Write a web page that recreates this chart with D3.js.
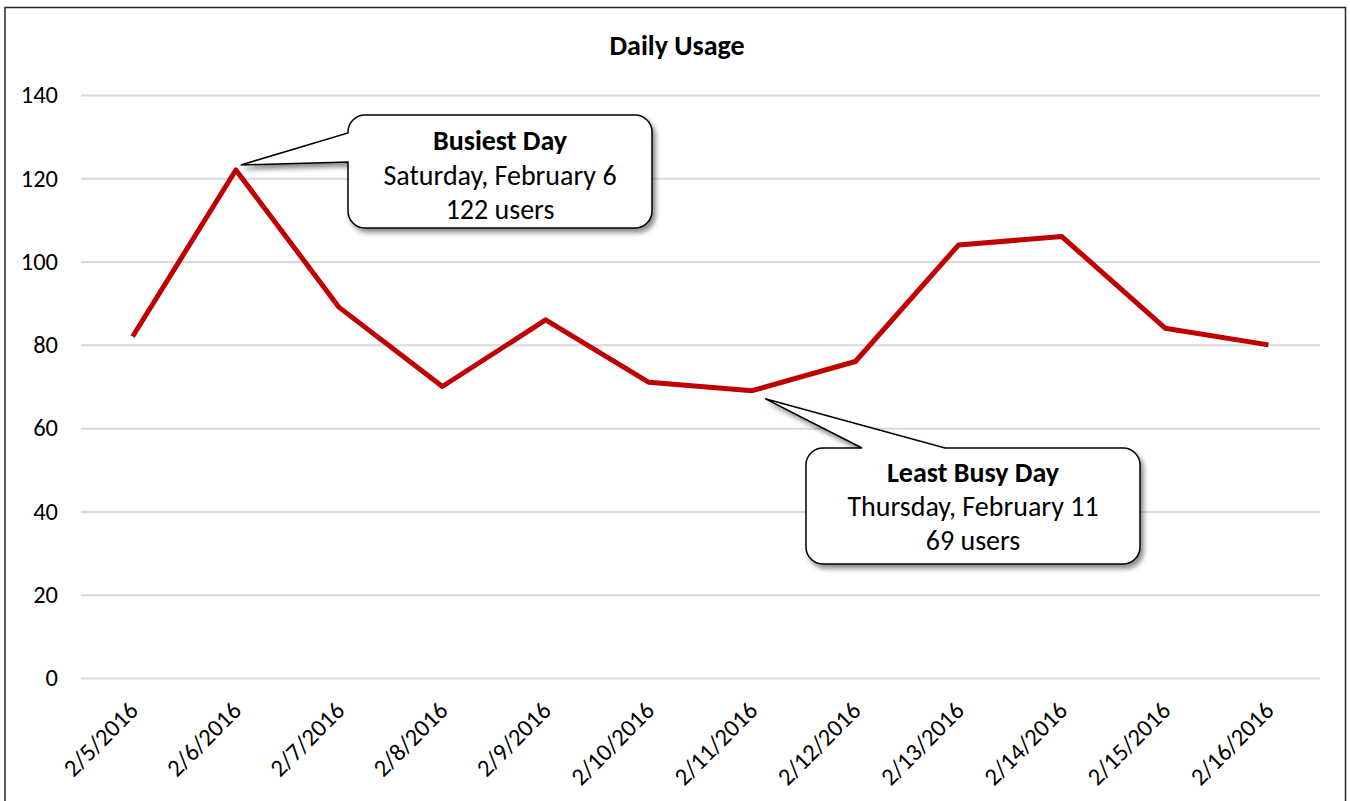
<!DOCTYPE html>
<html>
<head>
<meta charset="utf-8">
<script src="https://cdn.jsdelivr.net/npm/d3@7"></script>
<style>
  html, body { margin: 0; padding: 0; background: #fff; }
  svg { display: block; font-family: Carlito, Calibri, Lato, sans-serif; }
</style>
</head>
<body>
<svg id="chart" width="1350" height="801"></svg>
<script>
// Daily user counts, 5–16 February 2016
const dates = ["2/5/2016", "2/6/2016", "2/7/2016", "2/8/2016", "2/9/2016", "2/10/2016",
               "2/11/2016", "2/12/2016", "2/13/2016", "2/14/2016", "2/15/2016", "2/16/2016"];
const users = [82, 122, 89, 70, 86, 71, 69, 76, 104, 106, 84, 80];
const yTicks = [0, 20, 40, 60, 80, 100, 120, 140];

// Callout annotations for the extremes
const busiestLines = ["Busiest Day", "Saturday, February 6", "122 users"];
const leastLines = ["Least Busy Day", "Thursday, February 11", "69 users"];

const svg = d3.select("#chart");
const plot = { left: 81, right: 1320, top: 95, bottom: 678 };
const FONT = "Carlito, Calibri, Lato, sans-serif";

// Chart frame
svg.append("rect")
  .attr("x", 5).attr("y", 7.5)
  .attr("width", 1340.5).attr("height", 800)
  .attr("fill", "#fff").attr("stroke", "#262626").attr("stroke-width", 1.5);

const defs = svg.append("defs");
const shadow = defs.append("filter").attr("id", "shadow")
  .attr("x", "-10%").attr("y", "-10%").attr("width", "130%").attr("height", "140%");
shadow.append("feDropShadow")
  .attr("dx", 3).attr("dy", 4).attr("stdDeviation", 2.5)
  .attr("flood-color", "#000").attr("flood-opacity", 0.45);

const x = d3.scaleBand().domain(dates).range([plot.left, plot.right]).padding(0);
const y = d3.scaleLinear().domain([0, 140]).range([plot.bottom, plot.top]);
const cx = d => x(d) + x.bandwidth() / 2;

// Title
svg.append("text")
  .attr("x", 677).attr("y", 55)
  .attr("text-anchor", "middle")
  .attr("font-weight", "bold").attr("font-size", 28)
  .attr("fill", "#000")
  .text("Daily Usage");

// Horizontal gridlines + y labels
const yAxis = d3.axisLeft(y).tickValues(yTicks)
  .tickSize(-(plot.right - plot.left)).tickPadding(23);
const gy = svg.append("g")
  .attr("transform", `translate(${plot.left},0)`)
  .call(yAxis);
gy.select(".domain").remove();
gy.selectAll(".tick line").attr("stroke", "#d9d9d9").attr("stroke-width", 2);
gy.selectAll(".tick text")
  .attr("font-size", 24.5).attr("fill", "#000")
  .attr("font-family", FONT);

// X category labels, rotated
const xAxis = d3.axisBottom(x).tickSize(0).tickPadding(0);
const gx = svg.append("g")
  .attr("transform", `translate(0,${plot.bottom})`)
  .call(xAxis);
gx.select(".domain").remove();
gx.selectAll(".tick text")
  .attr("font-size", 24.5).attr("fill", "#000")
  .attr("font-family", FONT)
  .attr("text-anchor", "end")
  .attr("dy", 0)
  .attr("transform", "translate(7,34) rotate(-45)");

// Usage line
const line = d3.line()
  .x((d, i) => cx(dates[i]))
  .y(d => y(d));
svg.append("path")
  .datum(users)
  .attr("d", line)
  .attr("fill", "none")
  .attr("stroke", "#c00000")
  .attr("stroke-width", 5)
  .attr("stroke-linejoin", "round");

// Rounded box with a pointer wedge on one side
function calloutPath(b, r, side, a, c, tip) {
  const p = d3.path();
  p.moveTo(b.x0 + r, b.y0);
  if (side === "top") {
    p.lineTo(a, b.y0);
    p.lineTo(tip[0], tip[1]);
    p.lineTo(c, b.y0);
  }
  p.lineTo(b.x1 - r, b.y0);
  p.arcTo(b.x1, b.y0, b.x1, b.y0 + r, r);
  p.lineTo(b.x1, b.y1 - r);
  p.arcTo(b.x1, b.y1, b.x1 - r, b.y1, r);
  p.lineTo(b.x0 + r, b.y1);
  p.arcTo(b.x0, b.y1, b.x0, b.y1 - r, r);
  if (side === "left") {
    p.lineTo(b.x0, c);
    p.lineTo(tip[0], tip[1]);
    p.lineTo(b.x0, a);
  }
  p.lineTo(b.x0, b.y0 + r);
  p.arcTo(b.x0, b.y0, b.x0 + r, b.y0, r);
  p.closePath();
  return p.toString();
}

function callout(idx, box, side, a, c, tipOffset, lines, baselines) {
  const tip = [cx(dates[idx]) + tipOffset[0], y(users[idx]) + tipOffset[1]];
  const g = svg.append("g");
  g.append("path")
    .attr("d", calloutPath(box, 17, side, a, c, tip))
    .attr("fill", "#fff")
    .attr("stroke", "#000")
    .attr("stroke-width", 1.5)
    .attr("filter", "url(#shadow)");
  const mid = (box.x0 + box.x1) / 2;
  g.selectAll("text").data(lines).join("text")
    .attr("x", mid)
    .attr("y", (d, i) => baselines[i])
    .attr("text-anchor", "middle")
    .attr("font-size", 28)
    .attr("font-weight", (d, i) => i === 0 ? "bold" : "normal")
    .attr("fill", "#000")
    .text(d => d);
}

const iMax = users.indexOf(d3.max(users));
const iMin = users.indexOf(d3.min(users));

callout(iMax, { x0: 348, y0: 115, x1: 652, y1: 228 }, "left", 133, 162, [5, -5],
  busiestLines, [150, 185, 219]);
callout(iMin, { x0: 806, y0: 448, x1: 1140, y1: 564 }, "top", 862, 945, [13, 8],
  leastLines, [482, 516, 550]);
</script>
</body>
</html>
